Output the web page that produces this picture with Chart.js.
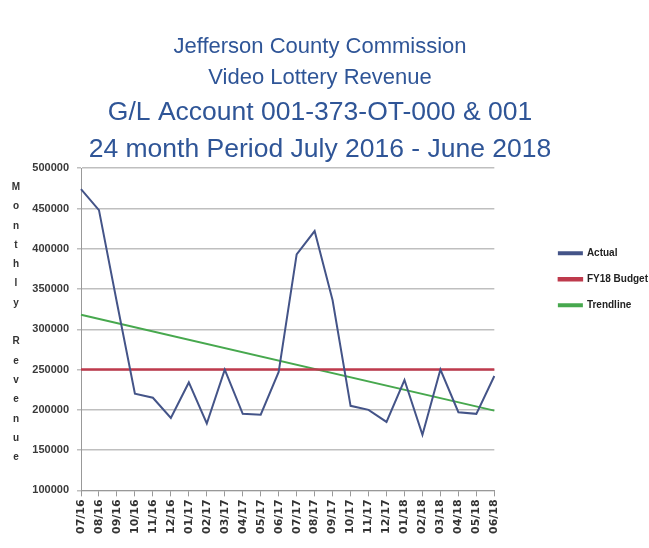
<!DOCTYPE html>
<html>
<head>
<meta charset="utf-8">
<script src="https://cdn.jsdelivr.net/npm/chart.js@4.4.1/dist/chart.umd.min.js"></script>
<style>
  html, body { margin: 0; padding: 0; background: #fff; }
  #wrap { width: 649px; height: 548px; }
</style>
</head>
<body>
<div id="wrap"><canvas id="chart"></canvas></div>
<script>
// values
const months = ["07/16", "08/16", "09/16", "10/16", "11/16", "12/16", "01/17", "02/17", "03/17", "04/17", "05/17", "06/17",
  "07/17", "08/17", "09/17", "10/17", "11/17", "12/17", "01/18", "02/18", "03/18", "04/18", "05/18", "06/18"];
const actual = [474000, 448000, 333000, 220000, 215000, 190000, 234000, 183000, 250000, 195000, 194000, 247000,
  393000, 422000, 336000, 205000, 200000, 185000, 237000, 169000, 250000, 197000, 195000, 242000];
const budget = [250000, 250000, 250000, 250000, 250000, 250000, 250000, 250000, 250000, 250000, 250000, 250000,
  250000, 250000, 250000, 250000, 250000, 250000, 250000, 250000, 250000, 250000, 250000, 250000];
// straight trend: only the two ends, joined with spanGaps
const trendline = [318000, null, null, null, null, null, null, null, null, null, null, null,
  null, null, null, null, null, null, null, null, null, null, null, 199000];

const titleLines = ["Jefferson County Commission", "Video Lottery Revenue"];
const subtitleLines = ["G/L Account 001-373-OT-000 & 001", "24 month Period July 2016 - June 2018"];
const yAxisTitle = "Monthly Revenue";

const TITLE_BLUE = "#2F5597";
const GRID = "#BFBFBF";
const SANS = "'Liberation Sans', Arial, sans-serif";

// Excel-style stacked letters for the y axis title
const stackedYTitle = {
  id: "stackedYTitle",
  afterDraw(chart) {
    const { ctx, chartArea } = chart;
    ctx.save();
    ctx.font = "bold 10px " + SANS;
    ctx.fillStyle = "#333";
    ctx.textAlign = "center";
    ctx.textBaseline = "middle";
    [...yAxisTitle].forEach((ch, i) => {
      ctx.fillText(ch, 16, chartArea.top + 19 + i * 19.3);
    });
    ctx.restore();
  },
};

// push the legend block to the right edge of the canvas
const legendToEdge = {
  id: "legendToEdge",
  afterLayout(chart) {
    const lg = chart.legend;
    if (!lg || !lg.legendHitBoxes.length) return;
    const itemW = Math.max(...lg.legendHitBoxes.map((h) => h.width));
    const shift = chart.width - 1 - (lg.left + lg.options.labels.padding + itemW);
    lg.left += shift;
    lg.right += shift;
  },
};

new Chart(document.getElementById("chart"), {
  type: "line",
  data: {
    labels: months,
    datasets: [
      {
        label: "Actual",
        data: actual,
        borderColor: "#445488",
        backgroundColor: "#445488",
        borderWidth: 2,
        pointRadius: 0,
        tension: 0,
      },
      {
        label: "FY18 Budget",
        data: budget,
        borderColor: "#BE3A4C",
        backgroundColor: "#BE3A4C",
        borderWidth: 2.5,
        pointRadius: 0,
      },
      {
        label: "Trendline",
        data: trendline,
        spanGaps: true,
        borderColor: "#47A84E",
        backgroundColor: "#47A84E",
        borderWidth: 2,
        pointRadius: 0,
      },
    ],
  },
  options: {
    responsive: true,
    maintainAspectRatio: false,
    animation: false,
    layout: { padding: { left: 0, right: 9, top: 0, bottom: 11 } },
    plugins: {
      title: {
        display: true,
        text: titleLines,
        color: TITLE_BLUE,
        font: { family: SANS, size: 22, weight: "normal", lineHeight: 1.41 },
        padding: { top: 31, bottom: 0 },
      },
      subtitle: {
        display: true,
        text: subtitleLines,
        color: TITLE_BLUE,
        font: { family: SANS, size: 26.5, weight: "normal", lineHeight: 1.4 },
        padding: { top: 1, bottom: 0 },
      },
      legend: {
        position: "right",
        align: "start",
        fullSize: false,
        title: { display: true, text: "", padding: { top: 52, bottom: 0 }, font: { size: 10 } },
        labels: {
          boxWidth: 23,
          boxHeight: 2,
          padding: 16,
          color: "#222",
          font: { family: SANS, size: 10, weight: "bold" },
        },
      },
      tooltip: { enabled: false },
    },
    scales: {
      x: {
        offset: false,
        grid: { display: true, drawOnChartArea: false, drawTicks: true, tickLength: 6, color: "#999" },
        border: { color: "#999" },
        ticks: {
          autoSkip: false,
          minRotation: 90,
          maxRotation: 90,
          padding: 3,
          color: "#333",
          font: { family: "'DejaVu Sans', sans-serif", size: 11, weight: "bold" },
        },
      },
      y: {
        min: 100000,
        max: 500000,
        ticks: {
          stepSize: 50000,
          padding: 8,
          color: "#3a3a3a",
          font: { family: SANS, size: 11, weight: "bold" },
          callback: (value) => String(value),
        },
        grid: { color: GRID, lineWidth: 1.5, tickLength: 4 },
        border: { color: "#999" },
        afterFit(scale) { scale.width = 81; },
      },
      // empty spacer between plot and legend
      y2: {
        position: "right",
        display: true,
        grid: { display: false, drawTicks: false },
        border: { display: false },
        ticks: { display: false },
        afterFit(scale) { scale.width = 39; },
      },
    },
  },
  plugins: [stackedYTitle, legendToEdge],
});
</script>
</body>
</html>
